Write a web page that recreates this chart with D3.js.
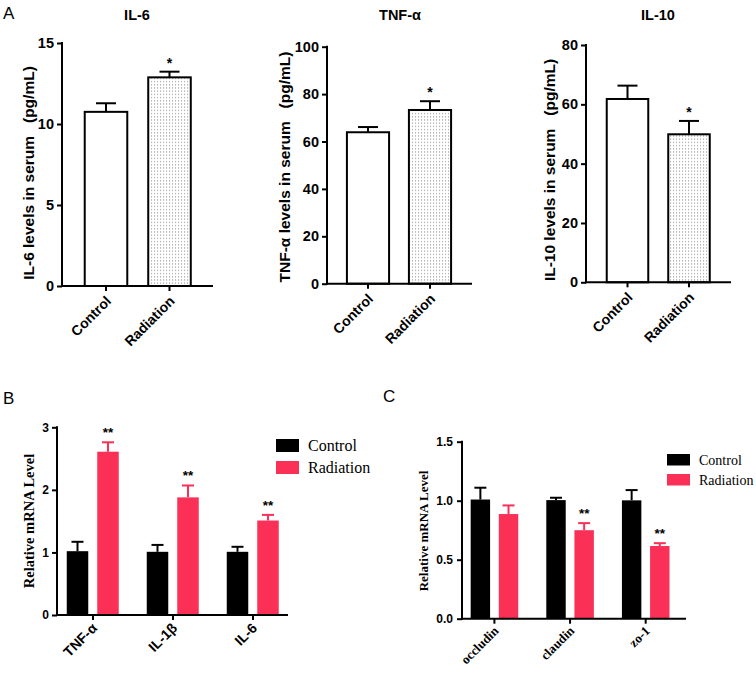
<!DOCTYPE html>
<html><head><meta charset="utf-8">
<script src="https://cdn.jsdelivr.net/npm/d3@7"></script>
<style>body{margin:0;background:#fff}svg{display:block}</style>
</head><body><svg id="c" width="756" height="675"></svg>
<script>
// ---------------- data ----------------
const groupsA = ["Control", "Radiation"];
const il6Mean = [10.75, 12.88];
const il6Sem = [0.53, 0.35];
const il6Sig = ["", "*"];
const il6Ticks = [0, 5, 10, 15];

const tnfMean = [63.9, 73.3];
const tnfSem = [2.2, 3.7];
const tnfSig = ["", "*"];
const tnfTicks = [0, 20, 40, 60, 80, 100];

const il10Mean = [61.8, 49.9];
const il10Sem = [4.5, 4.5];
const il10Sig = ["", "*"];
const il10Ticks = [0, 20, 40, 60, 80];

const seriesNames = ["Control", "Radiation"];

const genesB = ["TNF-α", "IL-1β", "IL-6"];
const bControl = [1.02, 1.01, 1.01];
const bControlSem = [0.15, 0.11, 0.08];
const bRadiation = [2.61, 1.88, 1.51];
const bRadiationSem = [0.15, 0.19, 0.09];
const bSig = ["**", "**", "**"];
const bTicks = [0, 1, 2, 3];

const genesC = ["occludin", "claudin", "zo-1"];
const cControl = [1.01, 1.005, 1.003];
const cControlSem = [0.10, 0.02, 0.087];
const cRadiation = [0.887, 0.75, 0.616];
const cRadiationSem = [0.073, 0.06, 0.024];
const cSig = ["", "**", "**"];
const cTicks = [0, 0.5, 1.0, 1.5];

// ---------------- drawing ----------------
const SANS = "'Liberation Sans', Arial, Helvetica, sans-serif";
const SERIF = "'Liberation Serif', 'Times New Roman', serif";
const RED = "#fa3057";
const svg = d3.select("#c");

const defs = svg.append("defs");
const pat = defs.append("pattern").attr("id", "dots").attr("patternUnits", "userSpaceOnUse")
  .attr("width", 3).attr("height", 3.2);
pat.append("rect").attr("width", 3).attr("height", 3.2).attr("fill", "#fff");
pat.append("rect").attr("x", 1).attr("y", 1).attr("width", 1.1).attr("height", 1.1).attr("fill", "#9a9a9a");

function styleAxis(g, size, family) {
  g.selectAll("path.domain").remove();
  g.selectAll(".tick line").attr("stroke", "#000").attr("stroke-width", 2);
  g.selectAll(".tick text").attr("fill", "#000").style("font-family", family)
    .style("font-weight", "bold").style("font-size", size + "px");
}

function panelA(c) {
  const g = svg.append("g");
  const y = d3.scaleLinear().domain([0, c.max]).range([c.yBot, c.yTop]);
  const x = d3.scaleBand().domain(groupsA).range(c.xr).paddingInner(c.pi).paddingOuter(c.pi / 2);
  const ya = g.append("g").attr("transform", `translate(${c.x0},0)`)
    .call(d3.axisLeft(y).tickValues(c.ticks).tickSize(5).tickPadding(3).tickSizeOuter(0));
  styleAxis(ya, 14.5, SANS);
  const xa = g.append("g").attr("transform", `translate(0,${c.yBot})`)
    .call(d3.axisBottom(x).tickSize(5).tickSizeOuter(0));
  styleAxis(xa, 14, SANS);
  xa.selectAll(".tick text").attr("x", 0).attr("y", 0).attr("dy", 0)
    .attr("transform", "translate(6,16) rotate(-45)").style("text-anchor", "end");
  g.selectAll("rect.bar").data(c.mean).join("rect")
    .attr("x", (d, i) => x(groupsA[i])).attr("width", x.bandwidth())
    .attr("y", d => y(d)).attr("height", d => c.yBot - y(d))
    .attr("fill", (d, i) => i === 0 ? "#fff" : "url(#dots)")
    .attr("stroke", "#000").attr("stroke-width", 2);
  c.mean.forEach((m, i) => {
    const cx = x(groupsA[i]) + x.bandwidth() / 2;
    const top = y(m + c.sem[i]);
    g.append("line").attr("x1", cx).attr("x2", cx).attr("y1", y(m)).attr("y2", top)
      .attr("stroke", "#000").attr("stroke-width", 2);
    g.append("line").attr("x1", cx - 10).attr("x2", cx + 10).attr("y1", top).attr("y2", top)
      .attr("stroke", "#000").attr("stroke-width", 2);
    if (c.sig[i]) g.append("text").attr("x", cx).attr("y", top - 4).attr("text-anchor", "middle")
      .style("font-family", SANS).style("font-weight", "bold").style("font-size", "14px").text(c.sig[i]);
  });
  g.append("line").attr("x1", c.x0).attr("x2", c.x0).attr("y1", c.yTop - 1).attr("y2", c.yBot + 1)
    .attr("stroke", "#000").attr("stroke-width", 2);
  g.append("line").attr("x1", c.x0 - 1).attr("x2", c.x1).attr("y1", c.yBot).attr("y2", c.yBot)
    .attr("stroke", "#000").attr("stroke-width", 2);
  g.append("text").attr("x", c.titleX).attr("y", 20).attr("text-anchor", "middle")
    .style("font-family", SANS).style("font-weight", "bold").style("font-size", "14.5px").text(c.title);
  g.append("text").attr("transform", `translate(${c.labX},${c.labY}) rotate(-90)`)
    .attr("text-anchor", "middle").attr("xml:space", "preserve").style("white-space", "pre")
    .style("font-family", SANS).style("font-weight", "bold").style("font-size", "15.5px").text(c.label);
}

panelA({x0: 62, x1: 213, yTop: 43, yBot: 286, max: 15, ticks: il6Ticks, xr: [74.25, 201.25], pi: 0.33,
  mean: il6Mean, sem: il6Sem, sig: il6Sig, title: "IL-6", titleX: 137,
  label: "IL-6 levels in serum   (pg/mL)", labX: 34, labY: 173});
panelA({x0: 327, x1: 472, yTop: 46.7, yBot: 283.7, max: 100, ticks: tnfTicks, xr: [337, 461], pi: 0.32,
  mean: tnfMean, sem: tnfSem, sig: tnfSig, title: "TNF-α", titleX: 400,
  label: "TNF-α levels in serum   (pg/mL)", labX: 290, labY: 167});
panelA({x0: 586, x1: 731, yTop: 45, yBot: 282.3, max: 80, ticks: il10Ticks, xr: [596.75, 719.75], pi: 0.325,
  mean: il10Mean, sem: il10Sem, sig: il10Sig, title: "IL-10", titleX: 658,
  label: "IL-10 levels in serum   (pg/mL)", labX: 555, labY: 170});

function panelG(c) {
  const g = svg.append("g");
  const y = d3.scaleLinear().domain([0, c.max]).range([c.yBot, c.yTop]);
  const xg = d3.scaleBand().domain(c.genes).range(c.gr).padding(0);
  const xi = d3.scaleBand().domain(seriesNames).range(c.ir).paddingInner(c.pi).paddingOuter(c.pi / 2);
  const ya = g.append("g").attr("transform", `translate(${c.x0},0)`)
    .call(d3.axisLeft(y).tickValues(c.ticks).tickSize(5).tickPadding(c.tp).tickSizeOuter(0)
      .tickFormat(c.fmt));
  styleAxis(ya, 12, SANS);
  const xa = g.append("g").attr("transform", `translate(0,${c.yBot})`)
    .call(d3.axisBottom(xg).tickSize(5).tickSizeOuter(0));
  styleAxis(xa, c.xfs, c.xfam);
  xa.selectAll(".tick text").attr("x", 0).attr("y", 0).attr("dy", 0)
    .attr("transform", c.xlt + " rotate(-45)").style("text-anchor", "end");
  const series = [
    {name: "Control", vals: c.ctrl, sem: c.ctrlSem, color: "#000"},
    {name: "Radiation", vals: c.rad, sem: c.radSem, color: RED}
  ];
  series.forEach(s => {
    s.vals.forEach((v, i) => {
      const bx = xg(c.genes[i]) + xi(s.name);
      const cx = bx + xi.bandwidth() / 2;
      const top = y(v + s.sem[i]);
      g.append("line").attr("x1", cx).attr("x2", cx).attr("y1", y(v)).attr("y2", top)
        .attr("stroke", s.color).attr("stroke-width", 2);
      g.append("line").attr("x1", cx - c.cap).attr("x2", cx + c.cap).attr("y1", top).attr("y2", top)
        .attr("stroke", s.color).attr("stroke-width", 2);
      g.append("rect").attr("x", bx).attr("width", xi.bandwidth()).attr("y", y(v))
        .attr("height", c.yBot - y(v)).attr("fill", s.color);
      if (s.name === "Radiation" && c.sig[i]) {
        g.append("text").attr("x", cx).attr("y", top - 5).attr("text-anchor", "middle")
          .style("font-family", SANS).style("font-weight", "bold").style("font-size", "13.5px").text(c.sig[i]);
      }
    });
  });
  g.append("line").attr("x1", c.x0).attr("x2", c.x0).attr("y1", c.yTop - 1).attr("y2", c.yBot + 1)
    .attr("stroke", "#000").attr("stroke-width", 2);
  g.append("line").attr("x1", c.x0 - 1).attr("x2", c.x1).attr("y1", c.yBot).attr("y2", c.yBot)
    .attr("stroke", "#000").attr("stroke-width", 2);
  g.append("text").attr("transform", `translate(${c.labX},${c.labY}) rotate(-90)`)
    .attr("text-anchor", "middle")
    .style("font-family", SERIF).style("font-weight", "bold").style("font-size", c.labFs + "px")
    .text("Relative mRNA Level");
  series.forEach((s, k) => {
    g.append("rect").attr("x", c.lx).attr("y", c.ly + k * c.lstep).attr("width", 23).attr("height", c.lh)
      .attr("fill", s.color);
    g.append("text").attr("x", c.lx + 32).attr("y", c.ly + k * c.lstep + c.lh - 1)
      .style("font-family", SERIF).style("font-size", c.lfs + "px").text(s.name);
  });
}

panelG({x0: 57, x1: 288, yTop: 427.3, yBot: 615, max: 3, ticks: bTicks, fmt: d3.format("d"), tp: 3,
  genes: genesB, gr: [53, 293], ir: [9.25, 70.25], pi: 0.295, cap: 6,
  ctrl: bControl, ctrlSem: bControlSem, rad: bRadiation, radSem: bRadiationSem, sig: bSig,
  xfs: 14, xfam: SANS, xlt: "translate(5,14)",
  labX: 34, labY: 521, labFs: 14.5,
  lx: 276, ly: 439, lh: 13, lstep: 22, lfs: 16});

panelG({x0: 462, x1: 686, yTop: 441.7, yBot: 618.7, max: 1.5, ticks: cTicks, fmt: d3.format(".1f"), tp: 4,
  genes: genesC, gr: [456.6, 683.5], ir: [9.7, 66], pi: 0.31, cap: 6,
  ctrl: cControl, ctrlSem: cControlSem, rad: cRadiation, radSem: cRadiationSem, sig: cSig,
  xfs: 13, xfam: SERIF, xlt: "translate(5,13)",
  labX: 428, labY: 531, labFs: 13,
  lx: 667, ly: 454, lh: 11.5, lstep: 20, lfs: 14});

[["A", 3, 19], ["B", 3, 404], ["C", 383, 402]].forEach(([t, x, yy]) => {
  svg.append("text").attr("x", x).attr("y", yy).style("font-family", SANS)
    .style("font-size", "17px").text(t);
});
</script></body></html>
